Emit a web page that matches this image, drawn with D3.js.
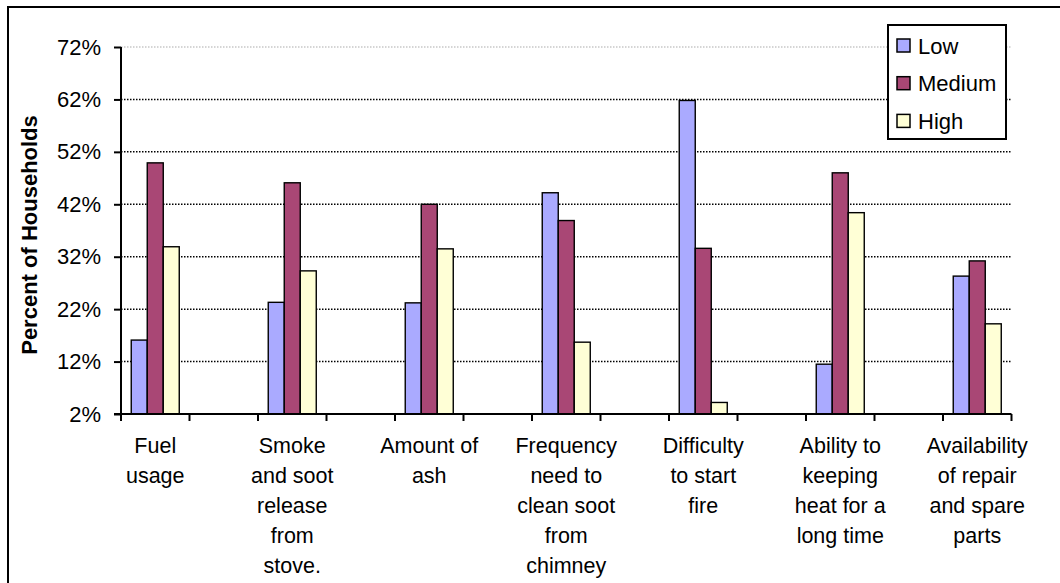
<!DOCTYPE html>
<html>
<head>
<meta charset="utf-8">
<script src="https://cdn.jsdelivr.net/npm/d3@7"></script>
<style>
  body { margin: 0; background: #fff; }
  svg { display: block; }
  text { font-family: "Liberation Sans", Arial, sans-serif; fill: #000; }
</style>
</head>
<body>
<svg id="chart" width="1060" height="583"></svg>
<script>
const categories = [
  "Fuel usage",
  "Smoke and soot release from stove.",
  "Amount of ash",
  "Frequency need to clean soot from chimney",
  "Difficulty to start fire",
  "Ability to keeping heat for a long time",
  "Availability of repair and spare parts"
];
const categoryLines = [
  ["Fuel", "usage"],
  ["Smoke", "and soot", "release", "from", "stove."],
  ["Amount of", "ash"],
  ["Frequency", "need to", "clean soot", "from", "chimney"],
  ["Difficulty", "to start", "fire"],
  ["Ability to", "keeping", "heat for a", "long time"],
  ["Availability", "of repair", "and spare", "parts"]
];
const seriesNames = ["Low", "Medium", "High"];
const lowValues    = [16.1, 23.3, 23.2, 44.2, 61.8, 11.5, 28.3];
const mediumValues = [49.9, 46.1, 42.0, 38.9, 33.6, 48.0, 31.2];
const highValues   = [33.9, 29.3, 33.5, 15.7, 4.2, 40.4, 19.2];
const yTicks = [2, 12, 22, 32, 42, 52, 62, 72];
const colors = ["#aaaaff", "#a94775", "#ffffd6"];

const svg = d3.select("#chart");
const m = { left: 121, right: 1011.5, top: 47, bottom: 414 };

// outer border
svg.append("rect").attr("x", 8).attr("y", 7).attr("width", 1070).attr("height", 600)
  .attr("fill", "none").attr("stroke", "#000").attr("stroke-width", 2);

// slots: each category followed by a blank slot (except last)
const slots = [];
categories.forEach((c, i) => { slots.push("c" + i); if (i < categories.length - 1) slots.push("b" + i); });

const x = d3.scaleBand().domain(slots).range([m.left, m.right]).padding(0);
const xs = d3.scaleBand().domain(seriesNames).range([0, x.bandwidth()]).paddingInner(0).paddingOuter(0.64);
const y = d3.scaleLinear().domain([2, 72]).range([m.bottom, m.top]);

// gridlines
svg.append("g").selectAll("line").data(yTicks.slice(1)).join("line")
  .attr("x1", m.left).attr("x2", m.right)
  .attr("y1", d => y(d)).attr("y2", d => y(d))
  .attr("stroke", d => d === 72 ? "#c8c8c8" : "#000")
  .attr("stroke-width", 1.5)
  .attr("stroke-dasharray", "1.5,1.5");

// bars
const data = categories.map((c, i) => ({
  key: "c" + i,
  values: [lowValues[i], mediumValues[i], highValues[i]]
}));
const groups = svg.append("g").selectAll("g").data(data).join("g")
  .attr("transform", d => `translate(${x(d.key)},0)`);
groups.selectAll("rect").data(d => d.values.map((v, j) => ({ s: seriesNames[j], v, j })))
  .join("rect")
  .attr("x", d => xs(d.s))
  .attr("width", xs.bandwidth())
  .attr("y", d => y(d.v))
  .attr("height", d => y(2) - y(d.v))
  .attr("fill", d => colors[d.j])
  .attr("stroke", "#000")
  .attr("stroke-width", 1.4);

// y axis
const yAxis = d3.axisLeft(y).tickValues(yTicks).tickFormat(d => d + "%").tickSize(7).tickPadding(13);
const gy = svg.append("g").attr("transform", `translate(${m.left},0)`).call(yAxis);
gy.select(".domain").attr("stroke", "#000").attr("stroke-width", 2).attr("d", `M0,${m.top}V${m.bottom}`);
gy.selectAll(".tick line").attr("stroke", "#000").attr("stroke-width", 2);
gy.selectAll(".tick text").attr("font-size", 22).attr("font-family", "Liberation Sans, Arial, sans-serif").attr("fill", "#000");

// x axis
const boundaries = slots.map(s => x(s)).concat([m.right]);
const gx = svg.append("g");
gx.append("line").attr("x1", m.left - 7).attr("x2", m.right).attr("y1", m.bottom).attr("y2", m.bottom)
  .attr("stroke", "#000").attr("stroke-width", 2);
gx.selectAll("line.tk").data(boundaries).join("line").attr("class", "tk")
  .attr("x1", d => d).attr("x2", d => d).attr("y1", m.bottom).attr("y2", m.bottom + 7)
  .attr("stroke", "#000").attr("stroke-width", 2);

// category labels
categories.forEach((c, i) => {
  const cx = x("c" + i) + x.bandwidth() / 2;
  const t = svg.append("text").attr("text-anchor", "middle").attr("font-size", 21.5);
  categoryLines[i].forEach((line, k) => {
    t.append("tspan").attr("x", cx).attr("y", 453 + k * 30).text(line);
  });
});

// y axis title
svg.append("text")
  .attr("transform", `translate(37,235) rotate(-90)`)
  .attr("text-anchor", "middle")
  .attr("font-size", 22).attr("font-weight", "bold")
  .text("Percent of Households");

// legend
const lg = svg.append("g");
lg.append("rect").attr("x", 888).attr("y", 25).attr("width", 118).attr("height", 114)
  .attr("fill", "#fff").attr("stroke", "#000").attr("stroke-width", 2);
seriesNames.forEach((s, i) => {
  const cy = 45.5 + i * 37.7;
  lg.append("rect").attr("x", 897).attr("y", cy - 6.5).attr("width", 13).attr("height", 13)
    .attr("fill", colors[i]).attr("stroke", "#000").attr("stroke-width", 1.5);
  lg.append("text").attr("x", 918).attr("y", cy + 8).attr("font-size", 22).text(s);
});
</script>
</body>
</html>
